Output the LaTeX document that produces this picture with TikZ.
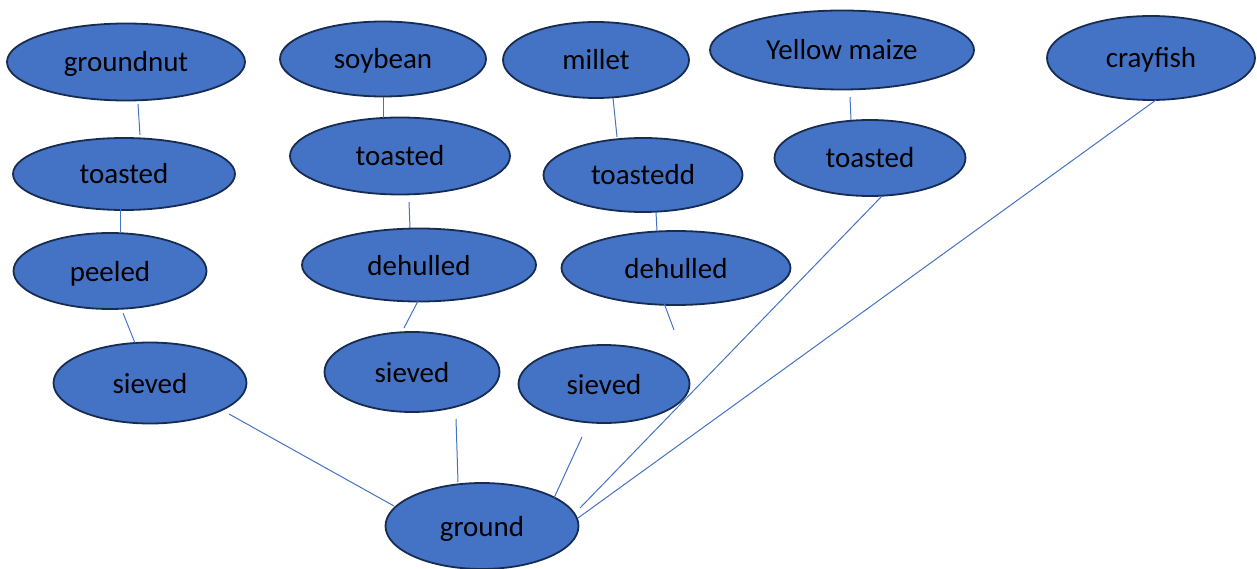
\documentclass[tikz,border=0pt]{standalone}
\usepackage{fontspec}
\setmainfont{Carlito}
\usetikzlibrary{shapes.geometric}
\definecolor{stepfill}{HTML}{4472C4}
\definecolor{stepline}{HTML}{172C51}
\definecolor{linkblue}{HTML}{4472C4}
\tikzset{
  stage/.style={ellipse, draw=stepline, line width=1.8pt, fill=stepfill,
    inner sep=0pt, font=\fontsize{29}{34}\selectfont, text=black,
    text height=26pt, text depth=6pt},
  link/.style={draw=linkblue, line width=1pt}
}
\begin{document}
\begin{tikzpicture}[x=1pt,y=-1pt]
\useasboundingbox (0,0) rectangle (1257,569);

% raw materials
\node[stage, minimum width=238, minimum height=77] (gnut)   at (126,62)  {groundnut};
\node[stage, minimum width=206, minimum height=75] (soy)    at (383,59)  {soybean};
\node[stage, minimum width=186, minimum height=76] (millet) at (596,60)  {millet};
\node[stage, minimum width=264, minimum height=79] (maize)  at (842,50)  {Yellow maize};
\node[stage, minimum width=208, minimum height=84] (cray)   at (1151,58) {crayfish};

% first treatment
\node[stage, minimum width=222, minimum height=72] (gnutT)   at (124,174) {toasted};
\node[stage, minimum width=220, minimum height=77] (soyT)    at (400,156) {toasted};
\node[stage, minimum width=199, minimum height=74] (milletT) at (643,175) {toastedd};
\node[stage, minimum width=191, minimum height=76] (maizeT)  at (870,158) {toasted};

% second treatment
\node[stage, minimum width=193, minimum height=76] (gnutP)   at (110,271) {peeled};
\node[stage, minimum width=234, minimum height=73] (soyD)    at (419,265) {dehulled};
\node[stage, minimum width=229, minimum height=74] (milletD) at (676,268) {dehulled};

% sieving
\node[stage, minimum width=193, minimum height=81] (gnutS)   at (150,383) {sieved};
\node[stage, minimum width=175, minimum height=80] (soyS)    at (412,372) {sieved};
\node[stage, minimum width=171, minimum height=78] (milletS) at (604,384) {sieved};

% final step
\node[stage, minimum width=193, minimum height=86] (ground) at (482,526) {ground};

% loose connector ends
\coordinate (a1) at (138,104); \coordinate (a2) at (140,135);
\coordinate (b1) at (383,97);  \coordinate (b2) at (383,118);
\coordinate (c1) at (613,98);  \coordinate (c2) at (617,137);
\coordinate (d1) at (850,97);  \coordinate (d2) at (851,120);
\coordinate (e1) at (120,209); \coordinate (e2) at (120,233);
\coordinate (f1) at (409,202); \coordinate (f2) at (410,228);
\coordinate (g1) at (656,212); \coordinate (g2) at (657,231);
\coordinate (h1) at (123,313); \coordinate (h2) at (135,343);
\coordinate (i1) at (418,301); \coordinate (i2) at (404,328);
\coordinate (j1) at (664,303); \coordinate (j2) at (674,330);
\coordinate (k1) at (229,414); \coordinate (k2) at (394,506);
\coordinate (l1) at (456,419); \coordinate (l2) at (458,482);
\coordinate (m1) at (582,437); \coordinate (m2) at (554,498);
\coordinate (n1) at (882,196); \coordinate (n2) at (580,508);
\coordinate (o1) at (1156,100); \coordinate (o2) at (578,518);

\foreach \s in {a,b,c,d,e,f,g,h,i,j,k,l,m,n,o}
  \draw[link] (\s1) -- (\s2);
\end{tikzpicture}
\end{document}
